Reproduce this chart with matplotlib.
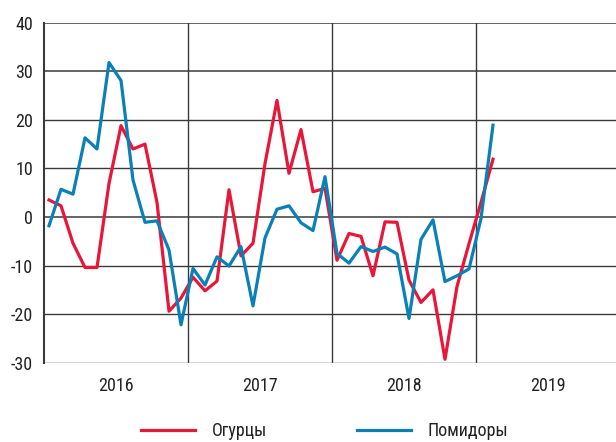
import matplotlib
matplotlib.use("Agg")
import matplotlib.pyplot as plt

# monthly values, Jan 2016 .. Feb 2019
cucumbers = [3.5, 2.3, -5.4, -10.4, -10.4, 6.9, 18.8, 14.0, 15.0, 3.0, -19.4, -16.7,
             -12.4, -15.2, -13.2, 5.6, -8.0, -5.4, 11.0, 24.0, 9.0, 18.0, 5.2, 5.9,
             -8.9, -3.4, -4.0, -12.1, -1.0, -1.1, -13.0, -17.6, -15.0, -29.3, -14.3, -5.5,
             3.0, 11.9]
tomatoes = [-1.8, 5.7, 4.7, 16.3, 14.0, 31.8, 28.1, 7.6, -1.1, -0.8, -6.8, -22.2,
            -10.6, -14.0, -8.2, -10.1, -6.1, -18.3, -4.3, 1.6, 2.3, -1.2, -2.8, 8.3,
            -7.5, -9.5, -6.1, -7.1, -6.2, -7.6, -20.9, -4.6, -0.6, -13.3, -12.1, -10.7,
            -0.3, 18.9]
years = ["2016", "2017", "2018", "2019"]
yticks = [-30, -20, -10, 0, 10, 20, 30, 40]

plt.rcParams["font.family"] = ["Roboto Condensed", "DejaVu Sans"]
plt.rcParams["font.stretch"] = "condensed"
plt.rcParams["axes.unicode_minus"] = False

red = "#e8173a"
blue = "#0a80b8"
grid_col = "#3a3a3a"
text_col = "#222222"

fig = plt.figure(figsize=(6.16, 4.42), dpi=100)
ax = fig.add_axes([44 / 616, 1 - 362.7 / 442, 1 - 44 / 616, (362.7 - 22.7) / 442])

months = list(range(len(cucumbers)))
for y in yticks:
    ax.axhline(y, color=grid_col, lw=1.1 if y in (0, 30, 40) else 1.0, zorder=1)
for i in range(1, len(years)):
    ax.axvline(12 * i - 0.417, color=grid_col, lw=1.0, zorder=1)

ax.plot(months, cucumbers, color=red, lw=2.3, label="Огурцы", zorder=3)
ax.plot(months, tomatoes, color=blue, lw=2.3, label="Помидоры", zorder=3)

ax.set_xlim(-0.417, 47.25)
ax.set_ylim(-30, 40)
ax.set_yticks(yticks)
ax.set_yticklabels([str(v) for v in yticks])
ax.set_xticks([12 * i + 5.583 for i in range(len(years))])
ax.set_xticklabels(years)
ax.tick_params(axis="y", length=0, pad=8, labelsize=13, colors=text_col)
ax.tick_params(axis="x", length=0, pad=10, labelsize=13, colors=text_col)

for side in ["top", "right", "bottom"]:
    ax.spines[side].set_visible(False)
ax.spines["left"].set_color(grid_col)
ax.spines["left"].set_linewidth(1.5)

fig.legend(loc="center", bbox_to_anchor=(324.5 / 616, 1 - 431 / 442), ncol=2,
           frameon=False, fontsize=13, handlelength=3.0, handletextpad=0.9,
           columnspacing=5.0, labelcolor=text_col)

fig.savefig("out.png", dpi=100)
